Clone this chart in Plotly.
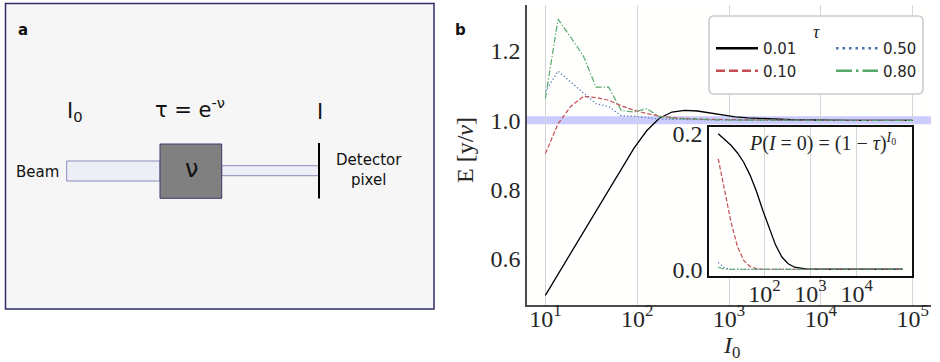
import plotly.graph_objects as go

# ---------------- data ----------------
I0 = [10, 13.74, 18.87, 25.93, 35.62, 48.94, 67.23, 92.37, 126.9, 174.3,
      239.5, 329.0, 452.0, 621.0, 853.2, 1172, 1610, 2212, 3039, 4175,
      5736, 7880, 10826, 14874, 20434, 28072, 38566, 52983, 72789, 100000]

tau_labels = ["0.01", "0.10", "0.50", "0.80"]

ratio_tau001 = [0.495, 0.556, 0.618, 0.679, 0.740, 0.802, 0.862, 0.920, 0.970, 1.006,
                1.024, 1.029, 1.027, 1.021, 1.015, 1.010, 1.007, 1.005, 1.003, 1.002,
                1.001, 1.001, 1.000, 1.000, 1.000, 1.000, 1.000, 1.000, 1.000, 1.000]
ratio_tau010 = [0.904, 0.990, 1.040, 1.069, 1.066, 1.058, 1.042, 1.029, 1.020, 1.012,
                1.008, 1.005, 1.004, 1.003, 1.002, 1.002, 1.001, 1.001, 1.001, 1.000,
                1.000, 1.000, 1.000, 1.000, 1.000, 1.000, 1.000, 1.000, 1.000, 1.000]
ratio_tau050 = [1.083, 1.142, 1.111, 1.080, 1.048, 1.040, 1.013, 1.012, 1.008, 1.004,
                1.003, 1.002, 1.002, 1.001, 1.001, 1.001, 1.000, 1.000, 1.000, 1.000,
                1.000, 1.000, 1.000, 1.000, 1.000, 1.000, 1.000, 1.000, 1.000, 1.000]
ratio_tau080 = [1.063, 1.292, 1.240, 1.186, 1.096, 1.096, 1.028, 1.024, 1.034, 1.011,
                1.006, 1.004, 1.003, 1.002, 1.001, 1.001, 1.001, 1.000, 1.000, 1.000,
                1.000, 1.000, 1.000, 1.000, 1.000, 1.000, 1.000, 1.000, 1.000, 1.000]

p0_tau001 = [0.200, 0.192, 0.183, 0.172, 0.158, 0.139, 0.115, 0.087, 0.060, 0.036,
             0.018, 0.008, 0.003, 0.001, 0.0, 0.0, 0.0, 0.0, 0.0, 0.0,
             0.0, 0.0, 0.0, 0.0, 0.0, 0.0, 0.0, 0.0, 0.0, 0.0]
p0_tau010 = [0.163, 0.117, 0.070, 0.034, 0.013, 0.004, 0.001, 0.0, 0.0, 0.0,
             0.0, 0.0, 0.0, 0.0, 0.0, 0.0, 0.0, 0.0, 0.0, 0.0,
             0.0, 0.0, 0.0, 0.0, 0.0, 0.0, 0.0, 0.0, 0.0, 0.0]
p0_tau050 = [0.010, 0.002, 0.0, 0.0, 0.0, 0.0, 0.0, 0.0, 0.0, 0.0,
             0.0, 0.0, 0.0, 0.0, 0.0, 0.0, 0.0, 0.0, 0.0, 0.0,
             0.0, 0.0, 0.0, 0.0, 0.0, 0.0, 0.0, 0.0, 0.0, 0.0]
p0_tau080 = [0.003, 0.0, 0.0, 0.0, 0.0, 0.0, 0.0, 0.0, 0.0, 0.0,
             0.0, 0.0, 0.0, 0.0, 0.0, 0.0, 0.0, 0.0, 0.0, 0.0,
             0.0, 0.0, 0.0, 0.0, 0.0, 0.0, 0.0, 0.0, 0.0, 0.0]

main_xticks = [10, 100, 1000, 10000, 100000]
main_xticklabels = ["10<sup>1</sup>", "10<sup>2</sup>", "10<sup>3</sup>", "10<sup>4</sup>", "10<sup>5</sup>"]
main_yticks = [0.6, 0.8, 1.0, 1.2]
main_yticklabels = ["0.6", "0.8", "1.0", "1.2"]
inset_xticks = [100, 1000, 10000]
inset_xticklabels = ["10<sup>2</sup>", "10<sup>3</sup>", "10<sup>4</sup>"]
inset_yticks = [0.0, 0.2]
inset_yticklabels = ["0.0", "0.2"]

# ---------------- styles ----------------
W, H = 940, 362
def PX(x):
    return x / W
def PY(y):
    return 1 - y / H

colors = ["#000000", "#c44e52", "#4c72b0", "#55a868"]
dashes_thin = ["solid", "4.5px,2px", "1.3px,2.2px", "6px,2px,1.3px,2px"]
dashes_leg = ["solid", "9px,4px", "2.5px,4px", "16px,4px,2.5px,4px"]
widths_thin = [1.3, 1.2, 1.2, 1.2]
legend_of = ["legend", "legend", "legend2", "legend2"]

SERIF = "Liberation Serif, DejaVu Serif, serif"
SANS = "DejaVu Sans, Arial, sans-serif"
TXT = "#262626"

ratios = [ratio_tau001, ratio_tau010, ratio_tau050, ratio_tau080]
p0s = [p0_tau001, p0_tau010, p0_tau050, p0_tau080]

fig = go.Figure()

for i in range(4):
    fig.add_trace(go.Scatter(x=I0, y=ratios[i], mode="lines", xaxis="x", yaxis="y",
                             line=dict(color=colors[i], width=widths_thin[i], dash=dashes_thin[i]),
                             showlegend=False, hoverinfo="skip"))
for i in range(4):
    fig.add_trace(go.Scatter(x=I0, y=p0s[i], mode="lines", xaxis="x2", yaxis="y2",
                             line=dict(color=colors[i], width=widths_thin[i], dash=dashes_thin[i]),
                             showlegend=False, hoverinfo="skip"))
# legend entries (two columns = two legends)
for i in range(4):
    fig.add_trace(go.Scatter(x=[None], y=[None], mode="lines", xaxis="x", yaxis="y",
                             name=tau_labels[i], legend=legend_of[i],
                             line=dict(color=colors[i], width=2.5, dash=dashes_leg[i]),
                             showlegend=True))

axis_common = dict(zeroline=False, ticks="", color=TXT, automargin=False)

leg_common = dict(xanchor="left", yanchor="top", orientation="v", itemwidth=42,
                  bgcolor="rgba(0,0,0,0)", borderwidth=0,
                  font=dict(family=SANS, size=15, color=TXT), tracegroupgap=0)

fig.update_layout(
    width=W, height=H,
    margin=dict(l=0, r=0, t=0, b=0, autoexpand=False),
    paper_bgcolor="#ffffff",
    plot_bgcolor="#fffffe",
    xaxis=dict(type="log", range=[0.8, 5.2], domain=[PX(527), PX(931)], anchor="y",
               tickvals=main_xticks, ticktext=main_xticklabels,
               tickfont=dict(family=SERIF, size=24, color=TXT), ticklabelstandoff=-9,
               showgrid=True, gridcolor="#d5d5d5", gridwidth=1,
               showline=True, linecolor="#4a4a4a", linewidth=1.5, **axis_common),
    yaxis=dict(range=[0.467, 1.333], domain=[PY(305), PY(5)], anchor="x",
               tickvals=main_yticks, ticktext=main_yticklabels,
               tickfont=dict(family=SERIF, size=24, color=TXT),
               showgrid=False,
               showline=True, linecolor="#4a4a4a", linewidth=1.5, **axis_common),
    xaxis2=dict(type="log", range=[0.8, 5.2], domain=[PX(709), PX(912)], anchor="y2",
                tickvals=inset_xticks, ticktext=inset_xticklabels,
                tickfont=dict(family=SERIF, size=24, color=TXT), ticklabelstandoff=-5,
                showgrid=True, gridcolor="#d5d5d5", gridwidth=1,
                showline=True, mirror=True, linecolor="#111111", linewidth=1.5, **axis_common),
    yaxis2=dict(range=[-0.01, 0.21], domain=[PY(276), PY(127)], anchor="x2",
                tickvals=inset_yticks, ticktext=inset_yticklabels,
                tickfont=dict(family=SERIF, size=24, color=TXT),
                showgrid=False,
                showline=True, mirror=True, linecolor="#111111", linewidth=1.5, **axis_common),
    legend=dict(x=PX(711), y=PY(32), **leg_common),
    legend2=dict(x=PX(831), y=PY(32), **leg_common),
)

shapes = []
# reference band at 1.0
shapes.append(dict(type="line", xref="x domain", yref="y", x0=0, x1=1, y0=1.0, y1=1.0,
                   line=dict(color="rgba(0,0,255,0.2)", width=8), layer="below"))

# legend frame (rounded)
def rounded_rect(x0, y0, x1, y1, r):
    pts = (f"M {PX(x0+r)},{PY(y0)} L {PX(x1-r)},{PY(y0)} "
           f"Q {PX(x1)},{PY(y0)} {PX(x1)},{PY(y0+r)} L {PX(x1)},{PY(y1-r)} "
           f"Q {PX(x1)},{PY(y1)} {PX(x1-r)},{PY(y1)} L {PX(x0+r)},{PY(y1)} "
           f"Q {PX(x0)},{PY(y1)} {PX(x0)},{PY(y1-r)} L {PX(x0)},{PY(y0+r)} "
           f"Q {PX(x0)},{PY(y0)} {PX(x0+r)},{PY(y0)} Z")
    return pts
shapes.append(dict(type="path", xref="paper", yref="paper", path=rounded_rect(709, 16, 923, 94, 5),
                   line=dict(color="#cccccc", width=1.5), fillcolor="#ffffff", layer="above"))

# ---------------- panel a : schematic ----------------
shapes.append(dict(type="rect", xref="paper", yref="paper", x0=PX(5.5), x1=PX(434), y0=PY(309), y1=PY(3.5),
                   line=dict(color="#2e2e68", width=1.5), fillcolor="#f6f6f6", layer="below"))
shapes.append(dict(type="rect", xref="paper", yref="paper", x0=PX(66.7), x1=PX(160), y0=PY(181), y1=PY(161),
                   line=dict(color="#8c8cbc", width=1), fillcolor="#eeeef6", layer="below"))
shapes.append(dict(type="rect", xref="paper", yref="paper", x0=PX(221.7), x1=PX(318.5), y0=PY(175.7), y1=PY(165.7),
                   line=dict(color="#8c8cbc", width=1), fillcolor="#eeeef6", layer="below"))
shapes.append(dict(type="rect", xref="paper", yref="paper", x0=PX(160), x1=PX(221.7), y0=PY(198.3), y1=PY(144),
                   line=dict(color="#3a3a6a", width=1), fillcolor="#808080", layer="below"))
shapes.append(dict(type="line", xref="paper", yref="paper", x0=PX(319), x1=PX(319), y0=PY(143), y1=PY(198.5),
                   line=dict(color="#000000", width=2), layer="below"))

fig.update_layout(shapes=shapes)

ann = []
def A(x, y, text, size, family=SANS, color="#111111", **kw):
    d = dict(x=PX(x), y=PY(y), xref="paper", yref="paper", text=text, showarrow=False,
             font=dict(family=family, size=size, color=color), xanchor="center", yanchor="middle")
    d.update(kw)
    ann.append(d)

A(22.5, 30, "<b>a</b>", 15, family="DejaVu Sans, Arial")
A(460.5, 30, "<b>b</b>", 15, family="DejaVu Sans, Arial")
A(75, 112, "I<sub>0</sub>", 21)
A(190, 108, "τ = e<sup>-ν</sup>", 21)
A(319.5, 112, "I", 21)
A(191, 169, "ν", 24)
A(37.7, 171.5, "Beam", 15)
A(368.5, 170, "Detector<br>pixel", 15)

# legend title
A(816.7, 31.5, "<i>τ</i>", 18, family=SERIF, color=TXT)
# axis titles
A(465, 150, "E [y/<i>ν</i>]", 24, family=SERIF, color=TXT, textangle=-90)
A(731, 347, "<i>I</i><sub>0</sub>", 24, family=SERIF, color=TXT)
# inset formula
A(822, 143, "<i>P</i>(<i>I</i> = 0) = (1 − <i>τ</i>)<sup><i>I</i><sub>0</sub></sup>", 20, family=SERIF, color=TXT)

fig.update_layout(annotations=ann)

fig.write_html("out.html", config={"displayModeBar": False},
               post_script="document.body.style.margin='0px';")
